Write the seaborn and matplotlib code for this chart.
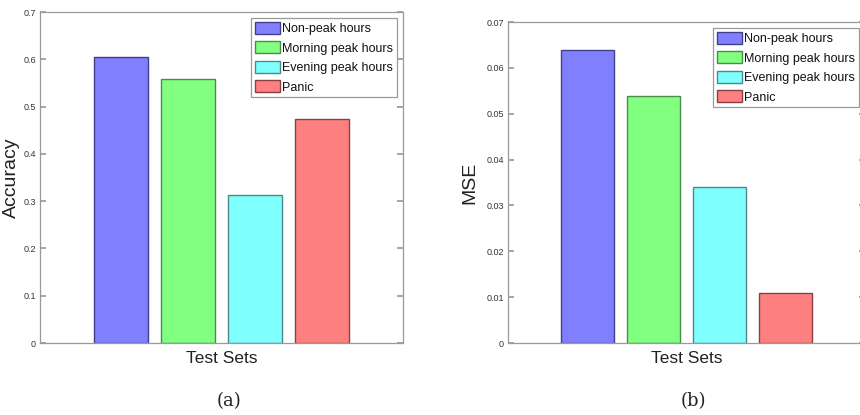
import matplotlib
matplotlib.use("Agg")
import matplotlib.pyplot as plt
import seaborn as sns
import pandas as pd
from matplotlib.patches import Patch

# ---- data ----
categories = ["Non-peak hours", "Morning peak hours", "Evening peak hours", "Panic"]
accuracy = [0.605, 0.558, 0.313, 0.474]
mse = [0.0638, 0.0539, 0.0340, 0.0110]
acc_ticks = [0, 0.1, 0.2, 0.3, 0.4, 0.5, 0.6, 0.7]
acc_ticklabels = ["0", "0.1", "0.2", "0.3", "0.4", "0.5", "0.6", "0.7"]
mse_ticks = [0, 0.01, 0.02, 0.03, 0.04, 0.05, 0.06, 0.07]
mse_ticklabels = ["0", "0.01", "0.02", "0.03", "0.04", "0.05", "0.06", "0.07"]

face_colors = ["#8080FF", "#80FF80", "#80FFFF", "#FF8080"]
edge_colors = ["#40408A", "#4A8A4A", "#4A8A8A", "#8A4040"]

sns.set_theme(style="white")
plt.rcParams["font.family"] = ["Liberation Sans", "DejaVu Sans"]

W, H = 860, 415
fig = plt.figure(figsize=(W / 100, H / 100), dpi=100)

def px_axes(l, t, r, b):
    return fig.add_axes([l / W, 1 - b / H, (r - l) / W, (b - t) / H])

ax1 = px_axes(40, 12, 403, 343)
ax2 = px_axes(508, 22, 865, 343)

def draw(ax, values, ylabel, ymax, ticks, ticklabels, ylabelpad):
    df = pd.DataFrame({"set": categories, "val": values})
    sns.barplot(data=df, x="set", y="val", hue="set", order=categories,
                hue_order=categories, palette=face_colors, width=0.8,
                saturation=1, legend=False, ax=ax, linewidth=1.0)
    for p, ec in zip(ax.patches, edge_colors):
        p.set_edgecolor(ec)
        p.set_linewidth(1.0)
    ax.set_xlim(-1.2, 4.2)
    ax.set_ylim(0, ymax)
    ax.set_yticks(ticks)
    ax.set_yticklabels(ticklabels, fontsize=6.5, color="#333333")
    ax.set_xticks([])
    ax.tick_params(axis="y", which="both", direction="in", length=4,
                   left=True, right=True, color="#9a9a9a", pad=3)
    for s in ax.spines.values():
        s.set_visible(True)
        s.set_color("#9a9a9a")
        s.set_linewidth(0.9)
    ax.set_ylabel(ylabel, fontsize=14, color="#222222", labelpad=ylabelpad)
    ax.set_xlabel("Test Sets", fontsize=12.5, color="#222222", labelpad=6)
    handles = [Patch(facecolor=fc, edgecolor=ec, linewidth=1.0)
               for fc, ec in zip(face_colors, edge_colors)]
    leg = ax.legend(handles, categories, loc="upper right", fontsize=9,
                    frameon=True, fancybox=False, framealpha=1,
                    edgecolor="#9a9a9a", borderpad=0.3, labelspacing=0.5,
                    handlelength=2.0, handleheight=1.1, handletextpad=0.15,
                    borderaxespad=0.5)
    leg.get_frame().set_linewidth(0.9)
    for t in leg.get_texts():
        t.set_color("#111111")
    ax.set_facecolor("white")

draw(ax1, accuracy, "Accuracy", 0.7, acc_ticks, acc_ticklabels, 2)
draw(ax2, mse, "MSE", 0.07, mse_ticks, mse_ticklabels, 6)

fig.text(229 / W, 1 - 401 / H, "(a)", ha="center", va="center", fontsize=13,
         family=["DejaVu Serif"], color="#222222")
fig.text(693 / W, 1 - 401 / H, "(b)", ha="center", va="center", fontsize=13,
         family=["DejaVu Serif"], color="#222222")

fig.savefig("out.png", dpi=100, facecolor="white")
